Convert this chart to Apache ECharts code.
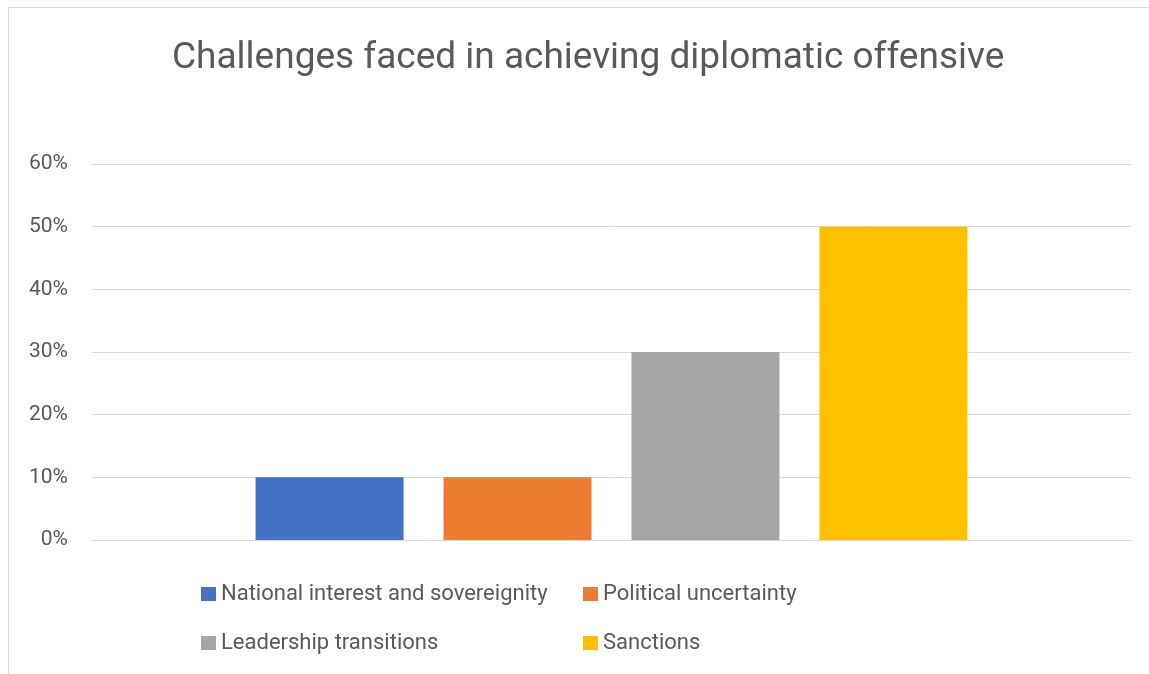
<!DOCTYPE html>
<html><head><meta charset="utf-8">
<script src="https://cdn.jsdelivr.net/npm/echarts@6/dist/echarts.min.js"></script>
<style>html,body{margin:0;padding:0;background:#fff}#c{width:1149px;height:674px}</style>
</head><body><div id="c"></div>
<script>
const categories = [''];
const seriesNames = ['National interest and sovereignity', 'Political uncertainty', 'Leadership transitions', 'Sanctions'];
const seriesValues = [10, 10, 30, 50];
const seriesColors = ['#4472C4', '#ED7D31', '#A5A5A5', '#FFC000'];
const yTicks = [0, 10, 20, 30, 40, 50, 60];

const chart = echarts.init(document.getElementById('c'), null, {renderer: 'canvas'});
const txt = '#595959';
const font = 'Roboto';
const legendPos = [[196, 578], [578, 578], [196, 627], [578, 627]];
chart.setOption({
  animation: false,
  backgroundColor: '#fff',
  graphic: [{type: 'rect', shape: {x: 8.5, y: 7.5, width: 1200, height: 700}, style: {fill: 'none', stroke: '#d9d9d9', lineWidth: 1}, silent: true, z: -1}],
  title: {text: 'Challenges faced in achieving diplomatic offensive', left: 167, top: 35,
    textStyle: {fontFamily: font, fontSize: 37, fontWeight: 'normal', color: txt}},
  legend: seriesNames.map((n, i) => ({data: [n], left: legendPos[i][0], top: legendPos[i][1], itemWidth: 15, itemHeight: 14, itemGap: 7,
    icon: 'rect', textStyle: {fontFamily: font, fontSize: 22, color: txt}, selectedMode: false})),
  grid: {left: 92, right: 18, top: 164, bottom: 134, containLabel: false},
  xAxis: {type: 'category', data: categories, axisLine: {show: true, lineStyle: {color: '#d9d9d9'}}, axisTick: {show: false}, axisLabel: {show: false}},
  yAxis: {type: 'value', min: yTicks[0], max: yTicks[yTicks.length - 1], interval: 10,
    axisLine: {show: false}, axisTick: {show: false},
    axisLabel: {formatter: v => v + '%', fontFamily: font, fontSize: 21, color: txt, margin: 24},
    splitLine: {lineStyle: {color: '#d9d9d9', width: 1}}},
  series: seriesNames.map((n, i) => ({name: n, type: 'bar', data: [seriesValues[i]], barWidth: 148, barGap: '27%',
    itemStyle: {color: seriesColors[i]}}))
});
</script></body></html>
